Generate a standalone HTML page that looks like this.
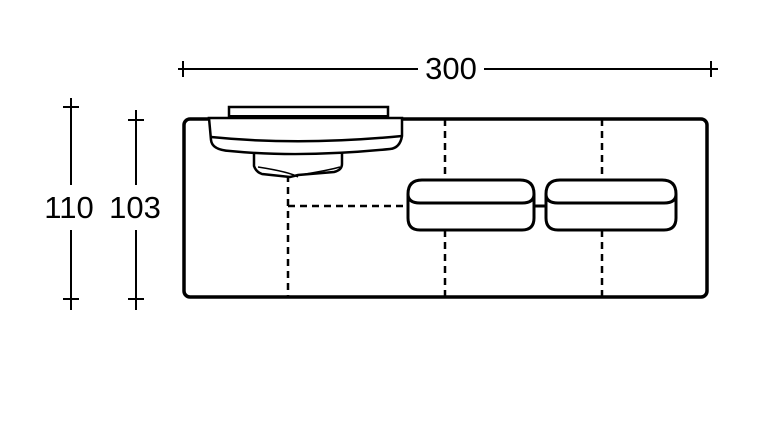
<!DOCTYPE html>
<html><head><style>
html,body{margin:0;padding:0;background:#fff;width:765px;height:435px;overflow:hidden}
svg{display:block}
text{font-family:"Liberation Sans",Arial,sans-serif;font-size:31px;fill:#000}
</style></head><body>
<svg width="765" height="435" viewBox="0 0 765 435">
<g stroke="#000" stroke-width="2" fill="none">
 <line x1="178" y1="69" x2="418" y2="69"/><line x1="484" y1="69" x2="718" y2="69"/>
 <line x1="183" y1="61" x2="183" y2="77"/><line x1="711" y1="61" x2="711" y2="77"/>
 <line x1="71" y1="98" x2="71" y2="185"/><line x1="71" y1="230" x2="71" y2="310"/>
 <line x1="63" y1="107" x2="79" y2="107"/><line x1="63" y1="299" x2="79" y2="299"/>
 <line x1="136" y1="110" x2="136" y2="185"/><line x1="136" y1="230" x2="136" y2="310"/>
 <line x1="128" y1="120" x2="144" y2="120"/><line x1="128" y1="299" x2="144" y2="299"/>
</g>
<text x="451" y="79" text-anchor="middle">300</text>
<text x="69" y="218" text-anchor="middle">110</text>
<text x="135" y="218" text-anchor="middle">103</text>
<g stroke="#000" fill="none">
 <rect x="184" y="119" width="523" height="178" rx="6" stroke-width="3.5"/>
 <g stroke-width="2.5" stroke-dasharray="7,5">
  <line x1="288" y1="175" x2="288" y2="297"/>
  <line x1="288" y1="206" x2="408" y2="206"/>
  <line x1="445" y1="119" x2="445" y2="180"/><line x1="445" y1="230" x2="445" y2="297"/>
  <line x1="602" y1="119" x2="602" y2="180"/><line x1="602" y1="230" x2="602" y2="297"/>
 </g>
 <line x1="534" y1="206" x2="546" y2="206" stroke-width="3"/>
 <g stroke-width="3" fill="#fff">
  <path d="M408 194 Q408 180 422 180 L520 180 Q534 180 534 194 L534 218 Q534 230 522 230 L420 230 Q408 230 408 218 Z"/>
  <path d="M408 194 Q408 203 420 203 L522 203 Q534 203 534 194" fill="none"/>
  <path d="M546 194 Q546 180 560 180 L662 180 Q676 180 676 194 L676 218 Q676 230 664 230 L558 230 Q546 230 546 218 Z"/>
  <path d="M546 194 Q546 203 558 203 L664 203 Q676 203 676 194" fill="none"/>
 </g>
 <g stroke-width="2.5" fill="#fff">
  <rect x="229" y="107" width="159" height="10"/>
  <path d="M254 152 L254 166 Q256 172 262 174 L290 177 L298 175 L334 172 Q342 170 342 164 L342 152 Z"/>
  <path d="M258 167 Q290 172 298 177 M300 175 Q330 170 340 167" fill="none" stroke-width="1.5"/>
  <path d="M209 118 L402 118 L402 136 Q400 148 390 149 Q300 158 230 151 Q212 150 211 140 Z"/>
  <path d="M211 137 Q300 146 402 136" fill="none"/>
 </g>
 <line x1="229" y1="117" x2="388" y2="117" stroke-width="4"/>
</g>
</svg>
</body></html>
